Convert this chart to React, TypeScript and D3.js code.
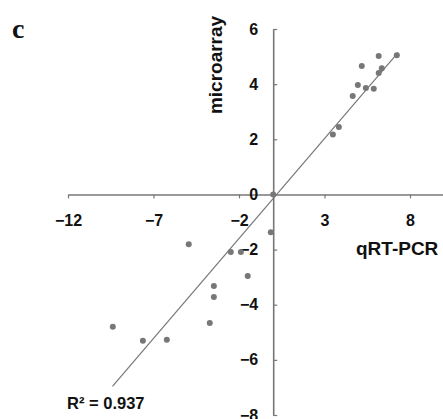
import React, { useEffect, useRef } from "react";
import * as d3 from "d3";

// qRT-PCR (x) vs microarray (y) log ratios
const qrtPcr = [7.23, 6.17, 5.18, 6.35, 6.17, 4.95, 5.42, 5.88, 4.65, 3.84, 3.49, 0.0,
  -0.14, -4.94, -2.48, -1.89, -1.49, -3.47, -3.47, -3.71, -9.38, -7.62, -6.22];
const microarray = [5.05, 5.02, 4.66, 4.58, 4.40, 3.97, 3.86, 3.83, 3.57, 2.45, 2.17, 0.0,
  -1.37, -1.81, -2.09, -2.09, -2.96, -3.32, -3.72, -4.66, -4.80, -5.31, -5.27];

const xTicks = [-12, -7, -2, 3, 8];
const yTicks = [-8, -6, -4, -2, 0, 2, 4, 6];

// linear trend line
const fitSlope = 0.725;
const fitIntercept = -0.15;
const fitRange = [-9.4, 7.3];
const r2Label = "R² = 0.937";

const W = 443;
const H = 419;
const gray = "#777";

const App = () => {
  const svgRef = useRef<SVGSVGElement>(null);

  useEffect(() => {
    const svg = d3.select(svgRef.current);
    svg.selectAll("*").remove();

    const x = d3.scaleLinear().domain([-12, 13]).range([68, 495.5]);
    const y = d3.scaleLinear().domain([-8, 6]).range([415, 29]);

    const font = "'Liberation Sans', Arial, sans-serif";

    // x axis through y = 0
    const gx = svg.append("g")
      .attr("transform", `translate(0, ${y(0)})`)
      .call(d3.axisBottom(x).tickValues(xTicks).tickSize(4).tickSizeOuter(0).tickPadding(16));
    gx.select(".domain").attr("stroke", gray).attr("stroke-width", 1.6);
    gx.selectAll(".tick line").attr("stroke", gray).attr("stroke-width", 1.2);
    gx.selectAll(".tick text")
      .attr("font-family", font).attr("font-size", 16).attr("font-weight", "bold").attr("fill", "#111");

    // y axis through x = 0
    const gy = svg.append("g")
      .attr("transform", `translate(${x(0)}, 0)`)
      .call(d3.axisLeft(y).tickValues(yTicks).tickSize(-4).tickSizeOuter(0).tickPadding(15));
    gy.select(".domain").attr("stroke", gray).attr("stroke-width", 1.6);
    gy.selectAll(".tick line").attr("stroke", gray).attr("stroke-width", 1.2);
    gy.selectAll(".tick text")
      .attr("font-family", font).attr("font-size", 16).attr("font-weight", "bold").attr("fill", "#111");

    // trend line
    svg.append("line")
      .attr("x1", x(fitRange[0])).attr("y1", y(fitSlope * fitRange[0] + fitIntercept))
      .attr("x2", x(fitRange[1])).attr("y2", y(fitSlope * fitRange[1] + fitIntercept))
      .attr("stroke", gray).attr("stroke-width", 1.2);

    // points
    svg.selectAll(".pt")
      .data(qrtPcr.map((v, i) => [v, microarray[i]]))
      .join("circle")
      .attr("class", "pt")
      .attr("cx", d => x(d[0]))
      .attr("cy", d => y(d[1]))
      .attr("r", 3)
      .attr("fill", gray);

    // axis titles
    svg.append("text")
      .attr("x", 356).attr("y", 255)
      .attr("font-family", font).attr("font-size", 19).attr("font-weight", "bold").attr("fill", "#111")
      .text("qRT-PCR");

    svg.append("text")
      .attr("transform", "translate(222, 65) rotate(-90)")
      .attr("text-anchor", "middle")
      .attr("font-family", font).attr("font-size", 19).attr("font-weight", "bold").attr("fill", "#111")
      .text("microarray");

    svg.append("text")
      .attr("x", 67).attr("y", 409)
      .attr("font-family", font).attr("font-size", 16.5).attr("font-weight", "bold").attr("fill", "#111")
      .text(r2Label);

    // panel letter
    svg.append("text")
      .attr("x", 12).attr("y", 38)
      .attr("font-family", "'Liberation Serif', 'Times New Roman', serif").attr("font-size", 28).attr("font-weight", "bold")
      .attr("fill", "#111")
      .text("c");
  }, []);

  return (
    <svg ref={svgRef} width={W} height={H}
      style={{ position: "absolute", left: 0, top: 0, background: "#fff" }} />
  );
};

export default App;
